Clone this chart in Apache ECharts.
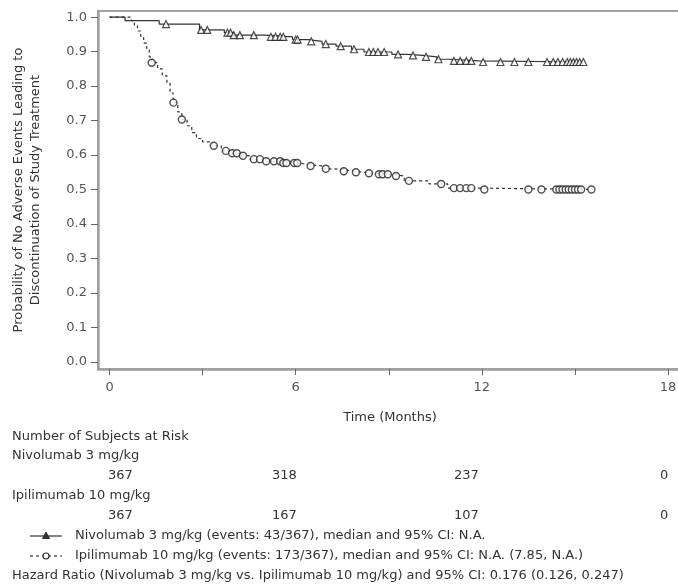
<!DOCTYPE html>
<html><head><meta charset="utf-8">
<script src="https://cdn.jsdelivr.net/npm/echarts@6/dist/echarts.min.js"></script>
<style>html,body{margin:0;padding:0;background:#fff}#c{width:678px;height:586px}</style>
</head><body><div id="c"></div>
<script>
// ---- data ----
const nivoStepT = [0, 0.5, 1.6, 2.9, 3.7, 4.0, 5.0, 5.9, 6.4, 6.85, 7.3, 7.8, 8.2, 9.1, 9.6, 10.1, 10.55, 10.95, 11.9, 15.27];
const nivoStepS = [1.0, 0.990, 0.980, 0.963, 0.955, 0.948, 0.943, 0.935, 0.930, 0.922, 0.916, 0.907, 0.899, 0.892, 0.889, 0.885, 0.878, 0.873, 0.870, 0.870];
const nivoCensorT = [1.82, 2.95, 3.15, 3.8, 3.9, 4.0, 4.2, 4.65, 5.2, 5.35, 5.5, 5.6, 6.0, 6.06, 6.5, 6.97, 7.45, 7.88, 8.36, 8.5, 8.65, 8.85, 9.3, 9.78, 10.2, 10.6, 11.1, 11.3, 11.5, 11.66, 12.04, 12.6, 13.05, 13.5, 14.1, 14.3, 14.45, 14.6, 14.75, 14.85, 14.95, 15.05, 15.15, 15.27];
const ipiStepT = [0, 0.7, 0.8, 0.9, 1.0, 1.1, 1.2, 1.28, 1.36, 1.55, 1.7, 1.85, 1.95, 2.05, 2.2, 2.33, 2.5, 2.65, 2.8, 3.0, 3.3, 3.6, 3.9, 4.2, 4.5, 5.0, 5.6, 6.1, 6.4, 6.9, 7.2, 7.5, 7.9, 8.2, 8.6, 9.1, 9.5, 10.3, 10.9, 11.8, 15.6];
const ipiStepS = [1.0, 0.99, 0.975, 0.96, 0.945, 0.925, 0.905, 0.885, 0.868, 0.85, 0.83, 0.81, 0.78, 0.752, 0.725, 0.703, 0.685, 0.665, 0.648, 0.638, 0.627, 0.612, 0.605, 0.598, 0.588, 0.582, 0.577, 0.572, 0.568, 0.560, 0.558, 0.553, 0.550, 0.547, 0.544, 0.539, 0.525, 0.516, 0.504, 0.500, 0.500];
const ipiCensorT = [1.36, 2.06, 2.33, 3.36, 3.75, 3.95, 4.1, 4.3, 4.65, 4.85, 5.05, 5.3, 5.5, 5.6, 5.7, 5.95, 6.05, 6.48, 6.97, 7.55, 7.94, 8.36, 8.68, 8.8, 8.97, 9.23, 9.65, 10.69, 11.1, 11.3, 11.5, 11.66, 12.08, 13.5, 13.92, 14.4, 14.5, 14.6, 14.7, 14.8, 14.9, 15.0, 15.1, 15.2, 15.53];
const xTickLabels = [0, 6, 12, 18];
const xTicks = [0, 3, 6, 9, 12, 15, 18];
const yTicks = [0, 0.1, 0.2, 0.3, 0.4, 0.5, 0.6, 0.7, 0.8, 0.9, 1.0];
const riskNivo = [367, 318, 237, 0];
const riskIpi = [367, 167, 107, 0];
const armNames = ['Nivolumab 3 mg/kg', 'Ipilimumab 10 mg/kg'];
const legendTexts = ['Nivolumab 3 mg/kg (events: 43/367), median and 95% CI: N.A.',
  'Ipilimumab 10 mg/kg (events: 173/367), median and 95% CI: N.A. (7.85, N.A.)'];
const hazardText = 'Hazard Ratio (Nivolumab 3 mg/kg vs. Ipilimumab 10 mg/kg) and 95% CI: 0.176 (0.126, 0.247)';

// ---- helpers ----
function zip(a, b) { return a.map((v, i) => [v, b[i]]); }
function levelAt(T, S, t) { let s = S[0]; for (let i = 0; i < T.length; i++) { if (T[i] <= t) s = S[i]; } return s; }
function censor(T, S, C) { return C.map(t => [t, levelAt(T, S, t)]); }

const FONT = "'DejaVu Sans', 'Liberation Sans', Arial, sans-serif";
const FS = 13;
const TXT = '#333';
const AX = '#a0a0a0';
const chart = echarts.init(document.getElementById('c'), null, { renderer: 'canvas' });

const riskX = [108, 272, 454, 660];
const graphics = [];
function txt(x, y, s, align) {
  graphics.push({ type: 'text', x: x, y: y, style: { text: s, font: FS + 'px ' + FONT, fill: TXT, textAlign: align || 'left', textVerticalAlign: 'middle' } });
}
txt(12, 437, 'Number of Subjects at Risk');
txt(12, 456, armNames[0]);
riskNivo.forEach((v, i) => txt(riskX[i], 476, String(v)));
txt(12, 496, armNames[1]);
riskIpi.forEach((v, i) => txt(riskX[i], 516, String(v)));
// legend samples
graphics.push({ type: 'line', shape: { x1: 30, y1: 536, x2: 62, y2: 536 }, style: { stroke: '#333', lineWidth: 1.2 } });
graphics.push({ type: 'polygon', shape: { points: [[46, 532], [42.5, 538.5], [49.5, 538.5]] }, style: { fill: '#333', stroke: '#333', lineWidth: 1 } });
txt(75, 536, legendTexts[0]);
graphics.push({ type: 'line', shape: { x1: 30, y1: 556, x2: 62, y2: 556 }, style: { stroke: '#333', lineWidth: 1.2, lineDash: [3, 3] } });
graphics.push({ type: 'circle', shape: { cx: 46, cy: 556, r: 3 }, style: { fill: '#fff', stroke: '#333', lineWidth: 1.2 } });
txt(75, 556, legendTexts[1]);
txt(12, 576, hazardText);

const option = {
  animation: false,
  backgroundColor: '#fff',
  textStyle: { fontFamily: FONT },
  grid: { left: 98, top: 11, right: -4, bottom: 217, show: true, borderColor: AX, borderWidth: 2, containLabel: false, outerBoundsMode: 'none' },
  xAxis: {
    type: 'value', min: -0.372, max: 18.45,
    name: 'Time (Months)', nameLocation: 'middle', nameGap: 42,
    nameTextStyle: { fontSize: FS, color: TXT, fontFamily: FONT },
    axisLine: { show: true, onZero: false, lineStyle: { color: AX, width: 2.5 } },
    axisTick: { show: true, length: 6, customValues: xTicks, lineStyle: { color: '#666', width: 1 } },
    axisLabel: { customValues: xTickLabels, fontSize: FS, color: '#555', margin: 12, fontFamily: FONT },
    splitLine: { show: false }
  },
  yAxis: {
    type: 'value', min: -0.021, max: 1.018,
    name: 'Probability of No Adverse Events Leading to\nDiscontinuation of Study Treatment',
    nameLocation: 'middle', nameRotate: 90, nameGap: 54,
    nameTextStyle: { fontSize: FS, color: TXT, lineHeight: 17, fontFamily: FONT },
    axisLine: { show: true, onZero: false, lineStyle: { color: AX, width: 2.5 } },
    axisTick: { show: true, length: 7, customValues: yTicks, lineStyle: { color: '#666', width: 1 } },
    axisLabel: { customValues: yTicks, fontSize: FS, color: '#555', margin: 11, fontFamily: FONT, formatter: v => v.toFixed(1) },
    splitLine: { show: false }
  },
  series: [
    { name: armNames[0], type: 'line', step: 'end', data: zip(nivoStepT, nivoStepS), showSymbol: false, symbol: 'none',
      lineStyle: { color: '#333', width: 1.2 }, z: 3 },
    { name: armNames[0] + ' censored', type: 'scatter', data: censor(nivoStepT, nivoStepS, nivoCensorT), symbol: 'triangle', symbolSize: 7,
      itemStyle: { color: '#fff', borderColor: '#222', borderWidth: 1.2 }, z: 4 },
    { name: armNames[1], type: 'line', step: 'end', data: zip(ipiStepT, ipiStepS), showSymbol: false, symbol: 'none',
      lineStyle: { color: '#333', width: 1.2, type: [3, 3] }, z: 3 },
    { name: armNames[1] + ' censored', type: 'scatter', data: censor(ipiStepT, ipiStepS, ipiCensorT), symbol: 'circle', symbolSize: 7,
      itemStyle: { color: '#fff', borderColor: '#222', borderWidth: 1.4 }, z: 4 }
  ],
  graphic: graphics
};
chart.setOption(option);
</script></body></html>
